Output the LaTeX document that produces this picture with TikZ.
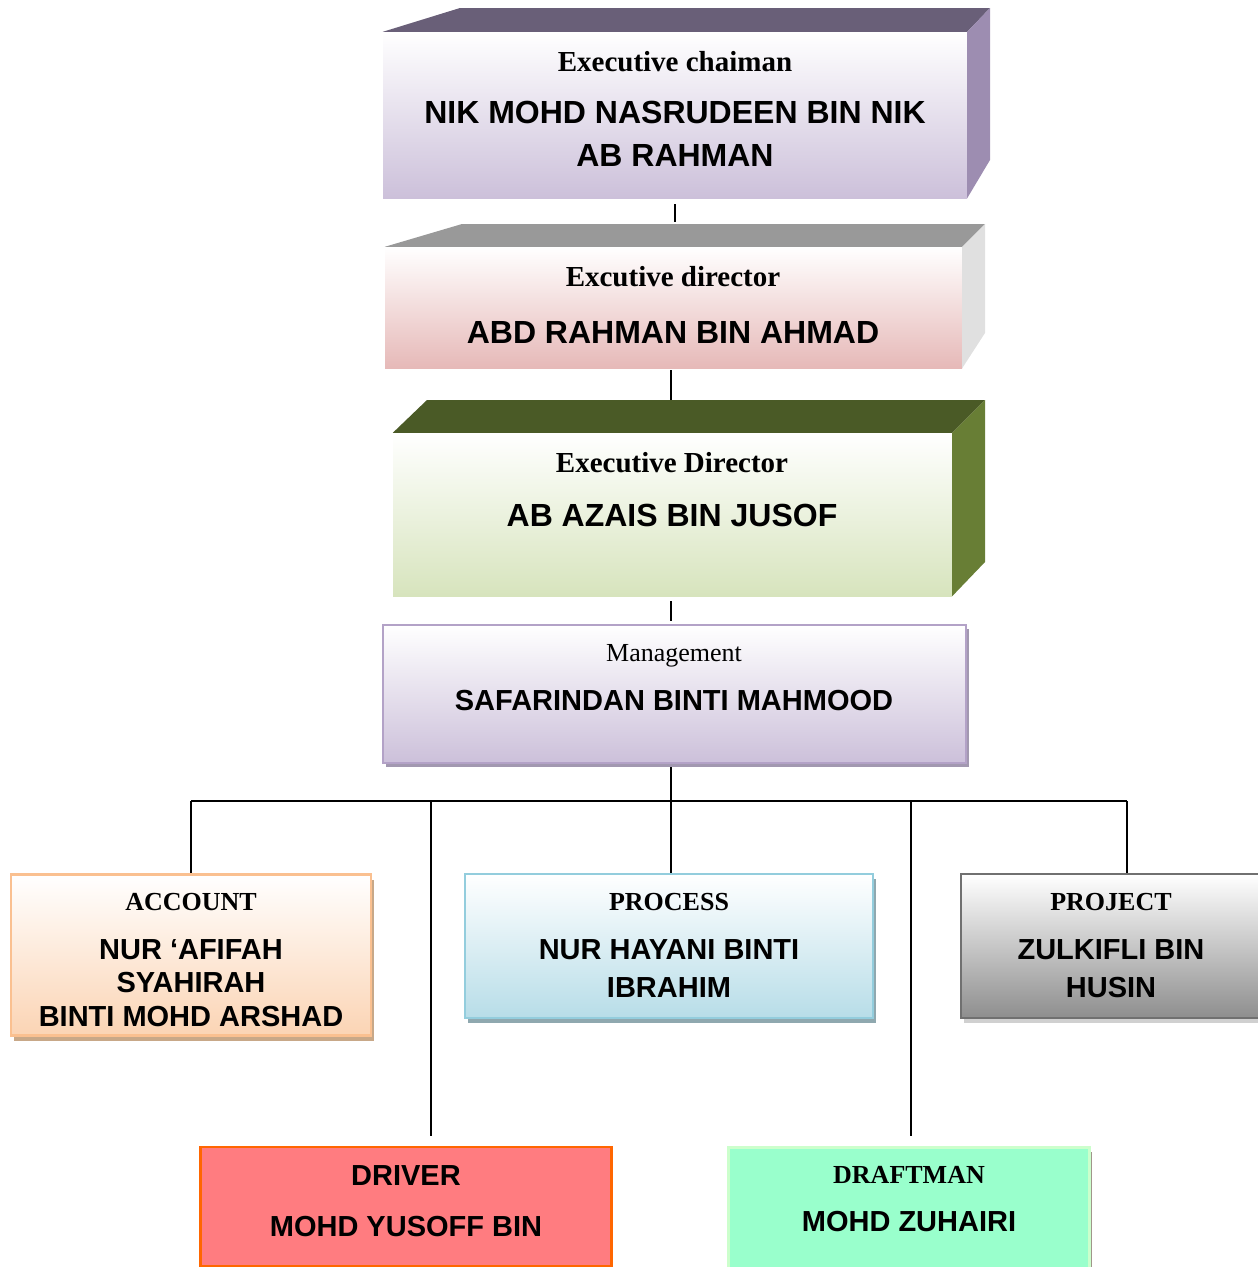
\documentclass[tikz,border=0pt]{standalone}
\usepackage{fontspec}
\setmainfont{Liberation Serif}
\setsansfont{Liberation Sans}
\usetikzlibrary{shadows}
\definecolor{chairtop}{HTML}{695F78}
\definecolor{chairside}{HTML}{9D8DB1}
\definecolor{chairbot}{HTML}{CCC0DA}
\definecolor{dirAtop}{HTML}{999999}
\definecolor{dirAside}{HTML}{E0E0E0}
\definecolor{dirAbot}{HTML}{E6B9B8}
\definecolor{dirBtop}{HTML}{4A5A26}
\definecolor{dirBside}{HTML}{687E35}
\definecolor{dirBbot}{HTML}{D7E4BD}
\definecolor{mgmtline}{HTML}{B3A2C7}
\definecolor{mgmtshade}{HTML}{A298B0}
\definecolor{accline}{HTML}{FAC090}
\definecolor{accbot}{HTML}{FBD4B4}
\definecolor{accshade}{HTML}{C8A888}
\definecolor{procline}{HTML}{93CDDD}
\definecolor{procbot}{HTML}{B7DDE8}
\definecolor{procshade}{HTML}{8FA8AF}
\definecolor{projline}{HTML}{707070}
\definecolor{projbot}{HTML}{8E8E8E}
\definecolor{projshade}{HTML}{D0D0D0}
\definecolor{drvfill}{HTML}{FF7C80}
\definecolor{drvline}{HTML}{FF6600}
\definecolor{drafill}{HTML}{99FFCC}
\definecolor{draline}{HTML}{CCFFCC}
\definecolor{drashade}{HTML}{A0968A}
\begin{document}
\begin{tikzpicture}[x=1pt,y=-1pt,
  face/.style={inner sep=0pt,top color=white},
  flatbox/.style={inner sep=0pt,line width=2.5pt},
  rolelbl/.style={anchor=base,font=\fontsize{29}{34}\selectfont\bfseries},
  smallrole/.style={anchor=base,font=\fontsize{26}{30}\selectfont\bfseries},
  bigname/.style={anchor=base,font=\fontsize{32}{36}\selectfont\sffamily\bfseries},
  smallname/.style={anchor=base,font=\fontsize{29}{34}\selectfont\sffamily\bfseries},
  link/.style={line width=1.8pt}]
\useasboundingbox (0,0) rectangle (1258,1267);

% top three boxes, drawn as blocks
\node[face,bottom color=chairbot,minimum width=584,minimum height=166] (chair) at (675,115) {};
\fill[chairtop] (chair.north west) -- (460,8) -- (990,8) -- (chair.north east) -- cycle;
\fill[chairside] (chair.north east) -- (990,8) -- (990,160) -- (chair.south east) -- cycle;
\node[rolelbl] (chairrole) at (675,71) {Executive chaiman};
\node[bigname] (chairname) at (675,123) {NIK MOHD NASRUDEEN BIN NIK};
\node[bigname] (chairname2) at (675,166) {AB RAHMAN};

\node[face,bottom color=dirAbot,minimum width=577,minimum height=121] (dirA) at (673.5,307.5) {};
\fill[dirAtop] (dirA.north west) -- (462,224) -- (985,224) -- (dirA.north east) -- cycle;
\fill[dirAside] (dirA.north east) -- (985,224) -- (985,333) -- (dirA.south east) -- cycle;
\node[rolelbl] (dirArole) at (673,286) {Excutive director};
\node[bigname] (dirAname) at (673,343) {ABD RAHMAN BIN AHMAD};

\node[face,bottom color=dirBbot,minimum width=559,minimum height=163] (dirB) at (672.5,514.5) {};
\fill[dirBtop] (dirB.north west) -- (427,400) -- (985,400) -- (dirB.north east) -- cycle;
\fill[dirBside] (dirB.north east) -- (985,400) -- (985,562) -- (dirB.south east) -- cycle;
\node[rolelbl] (dirBrole) at (672,472) {Executive Director};
\node[bigname] (dirBname) at (672,526) {AB AZAIS BIN JUSOF};

% flat boxes
\node[flatbox,draw=mgmtline,top color=white,bottom color=chairbot,minimum width=583,minimum height=138,
  general shadow={fill=mgmtshade,shadow xshift=3pt,shadow yshift=-4pt}] (mgmt) at (674.5,694) {};
\node[anchor=base,font=\fontsize{26}{30}\selectfont] (mgmtrole) at (674,661) {Management};
\node[smallname] (mgmtname) at (674,710) {SAFARINDAN BINTI MAHMOOD};

\node[flatbox,draw=accline,top color=white,bottom color=accbot,minimum width=360,minimum height=161,
  general shadow={fill=accshade,shadow xshift=3pt,shadow yshift=-5pt}] (acc) at (191,955) {};
\node[smallrole] (accrole) at (191,910) {ACCOUNT};
\node[smallname] (accname) at (191,959) {NUR ‘AFIFAH};
\node[smallname] (accname2) at (191,992) {SYAHIRAH};
\node[smallname] (accname3) at (191,1026) {BINTI MOHD ARSHAD};

\node[flatbox,draw=procline,top color=white,bottom color=procbot,minimum width=408,minimum height=144,
  general shadow={fill=procshade,shadow xshift=3pt,shadow yshift=-5pt}] (proc) at (669,946) {};
\node[smallrole] (procrole) at (669,910) {PROCESS};
\node[smallname] (procname) at (669,959) {NUR HAYANI BINTI};
\node[smallname] (procname2) at (669,997) {IBRAHIM};

\node[flatbox,draw=projline,top color=white,bottom color=projbot,minimum width=300,minimum height=144,
  general shadow={fill=projshade,shadow xshift=3pt,shadow yshift=-5pt}] (proj) at (1111,946) {};
\node[smallrole] (projrole) at (1111,910) {PROJECT};
\node[smallname] (projname) at (1111,959) {ZULKIFLI BIN};
\node[smallname] (projname2) at (1111,997) {HUSIN};

\node[flatbox,draw=drvline,fill=drvfill,minimum width=411,minimum height=119] (drv) at (406,1206.5) {};
\node[smallname] (drvrole) at (406,1185) {DRIVER};
\node[smallname] (drvname) at (406,1236) {MOHD YUSOFF BIN};

\node[flatbox,draw=draline,fill=drafill,minimum width=361,minimum height=121,
  general shadow={fill=drashade,shadow xshift=2pt,shadow yshift=-4pt}] (dra) at (909,1208) {};
\node[smallrole] (drarole) at (909,1183) {DRAFTMAN};
\node[smallname] (draname) at (909,1231) {MOHD ZUHAIRI};

% connectors
\coordinate (trunk) at (671,801);
\coordinate (busL) at (191,801);
\coordinate (busR) at (1127,801);
\coordinate (drvtap) at (431,801);
\coordinate (dratap) at (911,801);
\draw[link,shorten <=6pt,shorten >=25pt] (chair.south) -- (chair.south |- dirA.north);
\draw[link,shorten <=2pt,shorten >=33pt] (trunk |- dirA.south) -- (trunk |- dirB.north);
\draw[link,shorten <=5pt,shorten >=3pt] (trunk |- dirB.south) -- (trunk |- mgmt.north);
\draw[link,shorten <=3pt] (trunk |- mgmt.south) -- (trunk);
\draw[link] (busL) -- (busR);
\draw[link] (busL) -- (acc.north);
\draw[link] (trunk) -- (trunk |- proc.north);
\draw[link] (busR) -- (busR |- proj.north);
\draw[link,shorten >=10pt] (drvtap) -- (drvtap |- drv.north);
\draw[link,shorten >=10pt] (dratap) -- (dratap |- dra.north);
\end{tikzpicture}
\end{document}
